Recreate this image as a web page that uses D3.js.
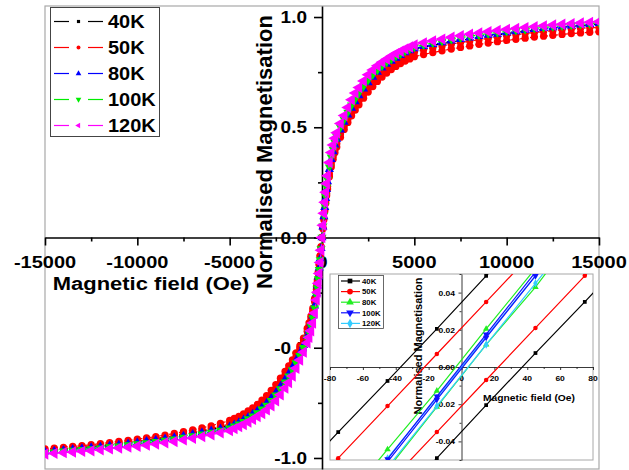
<!DOCTYPE html>
<html><head><meta charset="utf-8">
<script src="https://cdn.jsdelivr.net/npm/d3@7"></script>
<style>
body{margin:0;background:#fff;}
svg{display:block;}
text{font-family:"Liberation Sans",Arial,sans-serif;font-weight:bold;fill:#000;}
</style>
</head><body>
<svg id="c" width="629" height="470"></svg>
<script>
// ---------- main chart data ----------
const field = [-15000,-14500,-14000,-13500,-13000,-12500,-12000,-11500,-11000,-10500,-10000,-9500,-9000,-8500,-8000,-7500,-7000,-6500,-6000,-5500,-5000,
 -4750,-4500,-4250,-4000,-3750,-3500,-3250,-3000,-2750,-2500,-2250,
 -2000,-1800,-1600,-1400,-1200,-1000,
 -800,-700,-600,-500,-400,
 -300,-250,-200,-150,-100,-50,
 0,
 50,100,150,200,250,300,
 400,500,600,700,800,
 1000,1200,1400,1600,1800,2000,
 2250,2500,2750,3000,3250,3500,3750,4000,4250,4500,4750,5000,
 5500,6000,6500,7000,7500,8000,8500,9000,9500,10000,10500,11000,11500,12000,12500,13000,13500,14000,14500,15000];

const m40K = [-.968,-.965,-.961,-.957,-.953,-.949,-.945,-.94,-.935,-.93,-.925,-.919,-.913,-.907,-.901,-.894,-.887,-.879,-.871,-.861,-.85,
 -.841,-.83,-.818,-.805,-.791,-.776,-.759,-.739,-.716,-.69,-.661,
 -.63,-.603,-.573,-.543,-.51,-.475,
 -.433,-.408,-.378,-.343,-.298,
 -.243,-.208,-.168,-.128,-.088,-.043,
 0,
 .045,.09,.13,.17,.21,.245,
 .30,.345,.38,.41,.435,
 .477,.512,.545,.575,.605,.632,
 .663,.692,.718,.741,.761,.778,.793,.807,.82,.832,.843,.852,
 .862,.871,.879,.887,.894,.901,.907,.913,.919,.925,.93,.935,.94,.945,.949,.953,.957,.961,.965,.968];

const m50K = [-.959,-.956,-.952,-.948,-.944,-.94,-.935,-.93,-.925,-.92,-.915,-.909,-.903,-.896,-.889,-.881,-.873,-.864,-.854,-.843,-.83,
 -.821,-.811,-.8,-.787,-.773,-.757,-.738,-.717,-.693,-.667,-.638,
 -.607,-.582,-.555,-.524,-.492,-.457,
 -.412,-.387,-.357,-.322,-.277,
 -.222,-.192,-.157,-.122,-.082,-.042,
 0,
 .04,.08,.12,.155,.19,.22,
 .275,.32,.355,.385,.41,
 .455,.49,.522,.552,.578,.602,
 .632,.66,.685,.708,.728,.746,.762,.776,.789,.80,.81,.82,
 .83,.839,.847,.855,.862,.869,.876,.882,.888,.894,.899,.904,.909,.913,.917,.921,.925,.928,.931,.933];

const m50Kreturn = [-.966,-.963,-.959,-.955,-.951,-.947,-.943,-.938,-.933,-.928,-.923,-.917,-.911,-.905,-.898,-.891,-.883,-.875,-.866,-.856,-.845,
 -.836,-.826,-.814,-.801,-.787,-.771,-.753,-.733,-.71,-.684,-.655,
 -.624,-.597,-.567,-.536,-.503,-.467,
 -.425,-.4,-.37,-.335,-.29,
 -.235,-.2,-.162,-.124,-.085,-.044,
 0,
 .045,.088,.128,.165,.2,.232,
 .288,.333,.369,.4,.426,
 .47,.506,.538,.568,.595,.62,
 .65,.678,.703,.726,.746,.764,.78,.794,.807,.819,.83,.84,
 .851,.86,.869,.877,.884,.891,.897,.903,.909,.915,.92,.925,.93,.934,.938,.942,.946,.949,.951,.953];

const m80K = [-.972,-.968,-.965,-.961,-.957,-.953,-.949,-.945,-.94,-.935,-.93,-.924,-.919,-.913,-.907,-.9,-.893,-.885,-.877,-.868,-.858,
 -.849,-.839,-.827,-.815,-.801,-.787,-.77,-.751,-.729,-.704,-.675,
 -.644,-.617,-.588,-.557,-.524,-.489,
 -.447,-.421,-.391,-.355,-.31,
 -.254,-.219,-.179,-.138,-.096,-.049,
 0,
 .048,.095,.137,.178,.218,.253,
 .309,.354,.39,.42,.446,
 .488,.523,.556,.587,.616,.643,
 .674,.703,.728,.75,.769,.786,.8,.814,.826,.838,.848,.857,
 .867,.876,.884,.892,.899,.906,.912,.918,.923,.929,.934,.939,.944,.948,.952,.956,.96,.964,.967,.971];

const m100K = [-.976,-.973,-.969,-.966,-.962,-.959,-.955,-.95,-.946,-.941,-.936,-.931,-.926,-.92,-.914,-.907,-.9,-.892,-.884,-.875,-.865,
 -.856,-.846,-.835,-.823,-.81,-.796,-.779,-.761,-.74,-.715,-.687,
 -.656,-.629,-.601,-.569,-.536,-.5,
 -.458,-.432,-.401,-.365,-.32,
 -.263,-.228,-.188,-.146,-.101,-.052,
 0,
 .051,.1,.145,.187,.227,.262,
 .319,.364,.4,.431,.457,
 .499,.535,.568,.6,.628,.655,
 .686,.714,.739,.76,.778,.795,.809,.822,.834,.845,.855,.864,
 .874,.883,.891,.899,.906,.913,.919,.925,.93,.935,.94,.944,.949,.953,.957,.96,.964,.967,.97,.974];

const m120K = [-.982,-.979,-.976,-.973,-.97,-.967,-.963,-.959,-.955,-.951,-.947,-.942,-.937,-.931,-.925,-.918,-.911,-.903,-.895,-.886,-.876,
 -.867,-.858,-.848,-.837,-.825,-.812,-.798,-.782,-.763,-.741,-.713,
 -.683,-.658,-.628,-.593,-.556,-.52,
 -.478,-.453,-.423,-.388,-.343,
 -.283,-.248,-.208,-.163,-.113,-.058,
 0,
 .055,.11,.16,.205,.245,.28,
 .34,.385,.42,.45,.475,
 .517,.553,.59,.625,.655,.68,
 .71,.738,.76,.779,.795,.809,.822,.834,.845,.855,.864,.873,
 .883,.892,.9,.908,.915,.922,.928,.934,.939,.944,.948,.952,.956,.96,.964,.967,.97,.973,.976,.979];

const seriesNames = ["40K","50K","80K","100K","120K"];
const xTickValues = [-15000,-10000,-5000,0,5000,10000,15000];
const xTickLabels = ["-15000","-10000","-5000","0","5000","10000","15000"];
const xMinorValues = [-12500,-7500,-2500,2500,7500,12500];
const yTickValues = [-1.0,-0.5,0.0,0.5,1.0];
const yTickLabels = ["-1.0","-0.5","0.0","0.5","1.0"];
const yMinorValues = [-0.75,-0.25,0.25,0.75];

// ---------- inset data ----------
const insetField = [-105,-75,-45,-15,15,45,75,105];
const in40KUp   = [-0.063,-0.035,-0.0075,0.0205,0.049,0.077,0.105,0.133];
const in40KDown = [-0.133,-0.105,-0.077,-0.049,-0.0205,0.0075,0.035,0.063];
const in50KUp   = [-0.077,-0.049,-0.021,0.007,0.035,0.063,0.091,0.119];
const in50KDown = [-0.119,-0.091,-0.063,-0.035,-0.007,0.021,0.049,0.077];
const in80KUp   = [-0.108,-0.076,-0.0443,-0.0128,0.0205,0.053,0.085,0.117];
const in80KDown = [-0.121,-0.088,-0.055,-0.0214,0.012,0.043,0.078,0.111];
const in100KUp  = [-0.116,-0.083,-0.0495,-0.0158,0.0175,0.051,0.084,0.117];
const in100KDown= [-0.118,-0.085,-0.051,-0.0175,0.0158,0.049,0.083,0.116];
const in120KUp  = [-0.115,-0.082,-0.049,-0.0165,0.0165,0.049,0.082,0.115];
const in120KDown= [-0.12,-0.087,-0.054,-0.021,0.012,0.045,0.078,0.111];
const inXTickValues = [-80,-60,-40,-20,0,20,40,60,80];
const inXTickLabels = ["-80","-60","-40","-20","0","20","40","60","80"];
const inXMinor = [-70,-50,-30,-10,10,30,50,70];
const inYTickValues = [-0.04,-0.02,0,0.02,0.04];
const inYTickLabels = ["-0.04","-0.02","0.00","0.02","0.04"];
const inYMinor = [-0.05,-0.03,-0.01,0.01,0.03,0.05];

// ---------- drawing ----------
const svg = d3.select("#c");
const FR = {l:45, t:6, r:599, b:469};
const x = d3.scaleLinear([-15000,15000],[FR.l,FR.r]);
const y = d3.scaleLinear([-1.05,1.05],[FR.b,FR.t]);

function txt(g, px, py, s, size, sy, anchor){
  return g.append("text")
    .attr("transform",`translate(${px},${py}) scale(1,${sy})`)
    .attr("text-anchor",anchor).attr("font-size",size).text(s);
}

// frame
svg.append("rect").attr("x",FR.l).attr("y",FR.t).attr("width",FR.r-FR.l).attr("height",FR.b-FR.t)
  .attr("fill","#fff").attr("stroke","#a8a8a8").attr("stroke-width",1.2);

// axes
svg.append("g").attr("transform",`translate(0,${y(0)})`)
  .call(d3.axisBottom(x).tickValues(xTickValues).tickSize(8).tickSizeOuter(0).tickFormat(""));
const gxm = svg.append("g").attr("transform",`translate(0,${y(0)})`)
  .call(d3.axisBottom(x).tickValues(xMinorValues).tickSize(4).tickSizeOuter(0).tickFormat(""));
gxm.select(".domain").remove();
svg.append("g").attr("transform",`translate(${x(0)},0)`)
  .call(d3.axisLeft(y).tickValues(yTickValues).tickSize(8).tickSizeOuter(0).tickFormat(""));
const gym = svg.append("g").attr("transform",`translate(${x(0)},0)`)
  .call(d3.axisLeft(y).tickValues(yMinorValues).tickSize(4).tickSizeOuter(0).tickFormat(""));
gym.select(".domain").remove();
svg.selectAll(".domain, .tick line").attr("stroke","#000").attr("stroke-width",1.6);

const labels = svg.append("g");
xTickValues.forEach((v,i)=> txt(labels, x(v), 268, xTickLabels[i], 20, 0.82, "middle"));
yTickValues.forEach((v,i)=> txt(labels, 307, y(v)+6, yTickLabels[i], 19, 0.9, "end"));
txt(labels, 151, 290, "Magnetic field (Oe)", 22, 0.85, "middle");
labels.append("text").attr("transform",`translate(272,152) rotate(-90)`)
  .attr("text-anchor","middle").attr("font-size",22).text("Normalised Magnetisation");

// data
svg.append("clipPath").attr("id","mainclip").append("rect")
  .attr("x",FR.l).attr("y",FR.t).attr("width",FR.r-FR.l).attr("height",FR.b-FR.t);
const plot = svg.append("g").attr("clip-path","url(#mainclip)");

const mainSeries = [
  {vals:m40K, color:"#000000", type:d3.symbolSquare, size:30, rot:0},
  {vals:m50K, color:"#ff0000", type:d3.symbolCircle, size:42, rot:0},
  {vals:m50Kreturn, color:"#ff0000", type:d3.symbolCircle, size:42, rot:0},
  {vals:m80K, color:"#0000ff", type:d3.symbolTriangle, size:36, rot:0},
  {vals:m100K, color:"#00ee00", type:d3.symbolTriangle, size:36, rot:180},
  {vals:m120K, color:"#ff00ff", type:d3.symbolTriangle, size:56, rot:-90}
];
const line = d3.line().x(d=>x(d[0])).y(d=>y(d[1]));
mainSeries.forEach(s=>{
  const pts = field.map((f,i)=>[f,s.vals[i]]);
  plot.append("path").attr("d",line(pts)).attr("fill","none").attr("stroke",s.color).attr("stroke-width",1.2)
    .attr("stroke-dasharray","3,2");
  const path = d3.symbol().type(s.type).size(s.size)();
  plot.append("g").selectAll("path").data(pts).join("path")
    .attr("d",path)
    .attr("transform",d=>`translate(${x(d[0])},${y(d[1])}) rotate(${s.rot})`)
    .attr("fill",s.color);
});

// main legend
const lg = svg.append("g");
lg.append("rect").attr("x",50.5).attr("y",7.5).attr("width",109).attr("height",129)
  .attr("fill","#fff").attr("stroke","#444").attr("stroke-width",1);
const legendStyles = [
  {color:"#000000", type:d3.symbolSquare, size:10, rot:0},
  {color:"#ff0000", type:d3.symbolCircle, size:12, rot:0},
  {color:"#0000ff", type:d3.symbolTriangle, size:14, rot:0},
  {color:"#00ee00", type:d3.symbolTriangle, size:14, rot:180},
  {color:"#ff00ff", type:d3.symbolTriangle, size:14, rot:-90}
];
seriesNames.forEach((n,i)=>{
  const cy = 21.5 + i*26;
  const st = legendStyles[i];
  lg.append("line").attr("x1",54).attr("x2",69).attr("y1",cy).attr("y2",cy).attr("stroke",st.color).attr("stroke-width",1.2);
  lg.append("line").attr("x1",88).attr("x2",103).attr("y1",cy).attr("y2",cy).attr("stroke",st.color).attr("stroke-width",1.2);
  lg.append("path").attr("d",d3.symbol().type(st.type).size(st.size)())
    .attr("transform",`translate(78.5,${cy}) rotate(${st.rot})`).attr("fill",st.color);
  txt(lg, 108, cy+6.7, n, 20, 0.93, "start");
});

// ---------- inset ----------
const IN = {l:330, t:274, r:593, b:460};
const ix = d3.scaleLinear([-80,80],[IN.l,IN.r]);
const iy = d3.scaleLinear([-0.05,0.05],[IN.b,IN.t]);
const ins = svg.append("g");
ins.append("rect").attr("x",IN.l).attr("y",IN.t).attr("width",IN.r-IN.l).attr("height",IN.b-IN.t)
  .attr("fill","#fff").attr("stroke","#a8a8a8").attr("stroke-width",1);

ins.append("g").attr("transform",`translate(0,${iy(0)})`)
  .call(d3.axisBottom(ix).tickValues(inXTickValues).tickSize(3).tickSizeOuter(0).tickFormat(""));
const ixm = ins.append("g").attr("transform",`translate(0,${iy(0)})`)
  .call(d3.axisBottom(ix).tickValues(inXMinor).tickSize(2).tickSizeOuter(0).tickFormat(""));
ixm.select(".domain").remove();
ins.append("g").attr("transform",`translate(${ix(0)},0)`)
  .call(d3.axisLeft(iy).tickValues(inYTickValues).tickSize(3).tickSizeOuter(0).tickFormat(""));
const iym = ins.append("g").attr("transform",`translate(${ix(0)},0)`)
  .call(d3.axisLeft(iy).tickValues(inYMinor).tickSize(2).tickSizeOuter(0).tickFormat(""));
iym.select(".domain").remove();
ins.selectAll(".domain, .tick line").attr("stroke","#222").attr("stroke-width",0.9);

inXTickValues.forEach((v,i)=> txt(ins, ix(v), 380.5, inXTickLabels[i], 8.5, 0.95, "middle").attr("fill","#222"));
inYTickValues.forEach((v,i)=> txt(ins, 455, iy(v)+3, inYTickLabels[i], 8.5, 0.95, "end").attr("fill","#222"));
txt(ins, 529, 401, "Magnetic field (Oe)", 10.3, 0.95, "middle").attr("fill","#222");
ins.append("text").attr("transform",`translate(422,346) rotate(-90)`)
  .attr("text-anchor","middle").attr("font-size",11).attr("fill","#222").text("Normalised Magnetisation");

svg.append("clipPath").attr("id","inclip").append("rect")
  .attr("x",IN.l).attr("y",IN.t).attr("width",IN.r-IN.l).attr("height",IN.b-IN.t);
const iplot = ins.append("g").attr("clip-path","url(#inclip)");
const insetSeries = [
  {up:in40KUp, down:in40KDown, color:"#000000", type:d3.symbolSquare, size:14, rot:0},
  {up:in50KUp, down:in50KDown, color:"#ff0000", type:d3.symbolCircle, size:16, rot:0},
  {up:in80KUp, down:in80KDown, color:"#22ee22", type:d3.symbolTriangle, size:18, rot:0},
  {up:in120KUp, down:in120KDown, color:"#33ccff", type:d3.symbolDiamond, size:18, rot:0},
  {up:in100KUp, down:in100KDown, color:"#1010ff", type:d3.symbolTriangle, size:18, rot:180}
];
const iline = d3.line().x(d=>ix(d[0])).y(d=>iy(d[1]));
insetSeries.forEach(s=>{
  [s.up, s.down].forEach(arr=>{
    const pts = insetField.map((f,i)=>[f,arr[i]]);
    iplot.append("path").attr("d",iline(pts)).attr("fill","none").attr("stroke",s.color).attr("stroke-width",1.2);
    iplot.append("g").selectAll("path").data(pts).join("path")
      .attr("d",d3.symbol().type(s.type).size(s.size)())
      .attr("transform",d=>`translate(${ix(d[0])},${iy(d[1])}) rotate(${s.rot})`)
      .attr("fill",s.color);
  });
});

// inset legend
const il = ins.append("g");
il.append("rect").attr("x",338.5).attr("y",275.5).attr("width",45).attr("height",53)
  .attr("fill","#fff").attr("stroke","#444").attr("stroke-width",0.8);
const inLegend = [
  {color:"#000000", type:d3.symbolSquare, size:22, rot:0},
  {color:"#ff0000", type:d3.symbolCircle, size:26, rot:0},
  {color:"#22ee22", type:d3.symbolTriangle, size:26, rot:0},
  {color:"#1010ff", type:d3.symbolTriangle, size:26, rot:180},
  {color:"#33ccff", type:d3.symbolDiamond, size:26, rot:0}
];
seriesNames.forEach((n,i)=>{
  const cy = 281 + i*10.6;
  const st = inLegend[i];
  il.append("line").attr("x1",341).attr("x2",360).attr("y1",cy).attr("y2",cy).attr("stroke",st.color).attr("stroke-width",1.2);
  il.append("path").attr("d",d3.symbol().type(st.type).size(st.size)())
    .attr("transform",`translate(350,${cy}) rotate(${st.rot})`).attr("fill",st.color);
  txt(il, 362, cy+2.8, n, 7.8, 1, "start").attr("fill","#333");
});
</script>
</body></html>
